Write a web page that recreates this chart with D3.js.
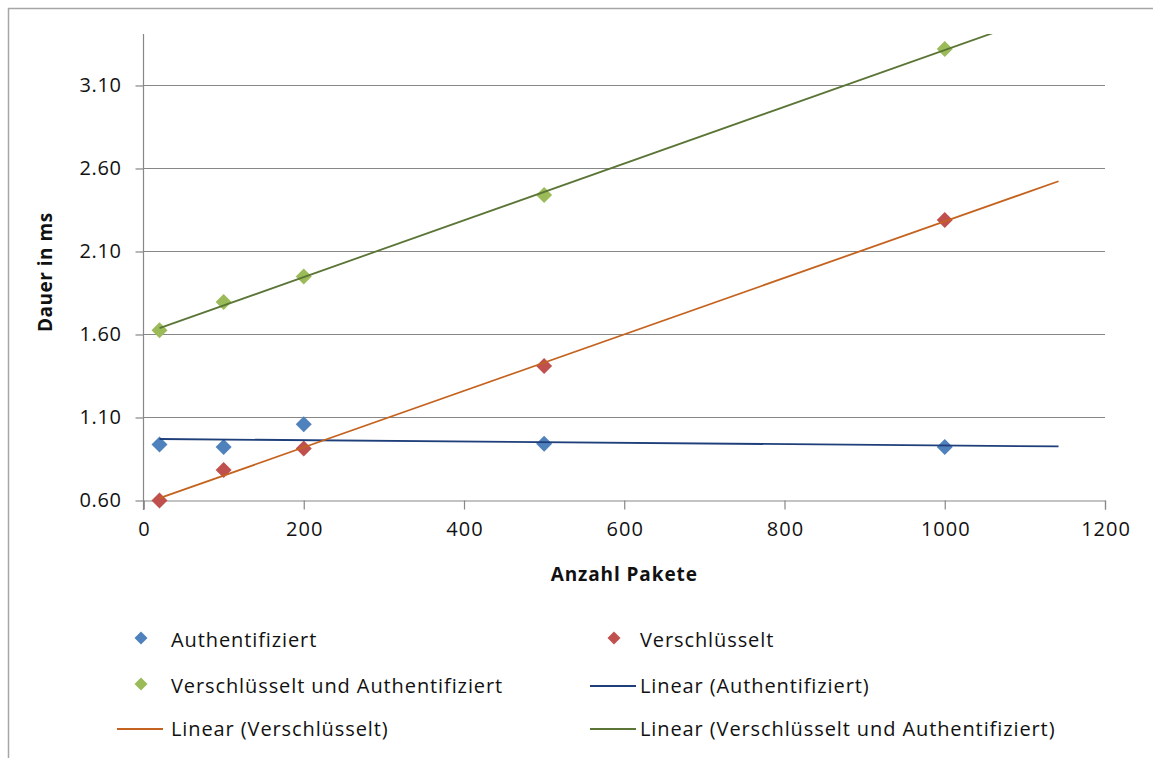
<!DOCTYPE html>
<html>
<head>
<meta charset="utf-8">
<script src="https://cdn.jsdelivr.net/npm/d3@7"></script>
<style>
  html, body { margin: 0; padding: 0; background: #fff; }
  svg { display: block; }
  text { font-family: "Open Sans", Lato, sans-serif; fill: #111; }
</style>
</head>
<body>
<svg id="chart" width="1153" height="758"></svg>
<script>
// ---- data ----
const xValues = [20, 100, 200, 500, 1000];
const authValues = [0.938, 0.922, 1.060, 0.942, 0.922];
const encValues = [0.600, 0.783, 0.913, 1.410, 2.290];
const encAuthValues = [1.626, 1.795, 1.950, 2.440, 3.320];
const xTicks = [0, 200, 400, 600, 800, 1000, 1200];
const yTicks = [0.60, 1.10, 1.60, 2.10, 2.60, 3.10];
const yMax = 3.41;
const trendForwardEnd = 1142;
const seriesNames = ["Authentifiziert", "Verschlüsselt", "Verschlüsselt und Authentifiziert"];
const trendNames = ["Linear (Authentifiziert)", "Linear (Verschlüsselt)", "Linear (Verschlüsselt und Authentifiziert)"];
const xTitle = "Anzahl Pakete";
const yTitle = "Dauer in ms";

// ---- styles ----
const markerColors = ["#4F81BD", "#C0504D", "#9BBB59"];
const trendColors = ["#1F3F7A", "#C4631F", "#5A7535"];
const gridColor = "#878787";

const svg = d3.select("#chart");

// outer border (top and left visible)
svg.append("path")
  .attr("d", "M8.5,758 L8.5,8.5 L1153,8.5")
  .attr("fill", "none").attr("stroke", "#a6a6a6").attr("stroke-width", 1.5);

const x = d3.scaleLinear().domain([0, 1200]).range([143.5, 1105]);
const y = d3.scaleLinear().domain([0.6, yMax]).range([500.5, 34]);

// gridlines
const gridG = svg.append("g");
gridG.selectAll("line").data(yTicks.slice(1)).join("line")
  .attr("x1", x(0)).attr("x2", x(1200))
  .attr("y1", d => Math.round(y(d)) + 0.5).attr("y2", d => Math.round(y(d)) + 0.5)
  .attr("stroke", gridColor).attr("stroke-width", 1.2);

// y axis
const yAxis = d3.axisLeft(y).tickValues(yTicks).tickFormat(d3.format(".2f")).tickSizeOuter(0).tickSize(8).tickPadding(14);
const yG = svg.append("g").attr("transform", `translate(${x(0)},0)`).call(yAxis);
yG.select(".domain").remove();
yG.append("line").attr("x1", 0).attr("x2", 0).attr("y1", y(yMax)).attr("y2", 510)
  .attr("stroke", gridColor).attr("stroke-width", 1.2);
yG.selectAll(".tick line").attr("stroke", gridColor).attr("stroke-width", 1.2);
yG.selectAll(".tick text").style("font-size", "20px").style("letter-spacing", "0.6px").attr("fill", "#111");

// x axis
const xAxis = d3.axisBottom(x).tickValues(xTicks).tickFormat(d3.format("d")).tickSizeOuter(0).tickSize(9).tickPadding(12);
const xG = svg.append("g").attr("transform", `translate(0,${y(0.6)})`).call(xAxis);
xG.select(".domain").attr("stroke", gridColor).attr("stroke-width", 1.2);
xG.selectAll(".tick line").attr("stroke", gridColor).attr("stroke-width", 1.2);
xG.selectAll(".tick text").style("font-size", "20px").style("letter-spacing", "1px").attr("dx", "0.5px").attr("fill", "#111");

// axis titles
svg.append("text").text(xTitle)
  .attr("x", (x(0) + x(1200)) / 2).attr("y", 581)
  .attr("text-anchor", "middle").style("font-size", "19px").style("font-weight", "bold").style("letter-spacing", "0.9px");
svg.append("text").text(yTitle)
  .attr("transform", `translate(52,${(y(0.6) + y(yMax)) / 2 + 5}) rotate(-90)`)
  .attr("text-anchor", "middle").style("font-size", "19px").style("font-weight", "bold").style("letter-spacing", "0.5px");

// clip
svg.append("clipPath").attr("id", "plotClip").append("rect")
  .attr("x", x(0)).attr("y", y(yMax)).attr("width", x(1200) - x(0)).attr("height", y(0.6) - y(yMax));

const allSeries = [authValues, encValues, encAuthValues];
const diamond = d3.symbol().type(d3.symbolSquare).size(128);

// markers
allSeries.forEach((vals, i) => {
  svg.append("g").selectAll("path").data(vals.map((v, j) => [xValues[j], v])).join("path")
    .attr("d", diamond)
    .attr("transform", d => `translate(${x(d[0])},${y(d[1])}) rotate(45)`)
    .attr("fill", markerColors[i]);
});

// trend lines (least squares)
function fit(xs, ys) {
  const mx = d3.mean(xs), my = d3.mean(ys);
  let sxy = 0, sxx = 0;
  xs.forEach((xv, k) => { sxy += (xv - mx) * (ys[k] - my); sxx += (xv - mx) * (xv - mx); });
  const b = sxy / sxx;
  return xv => my + b * (xv - mx);
}
const trendG = svg.append("g").attr("clip-path", "url(#plotClip)");
allSeries.forEach((vals, i) => {
  const f = fit(xValues, vals);
  const x0 = d3.min(xValues);
  trendG.append("line")
    .attr("x1", x(x0)).attr("y1", y(f(x0)))
    .attr("x2", x(trendForwardEnd)).attr("y2", y(f(trendForwardEnd)))
    .attr("stroke", trendColors[i]).attr("stroke-width", 1.8);
});

// legend
const legendItems = [
  { kind: "marker", color: markerColors[0], label: seriesNames[0], col: 0, row: 0 },
  { kind: "marker", color: markerColors[1], label: seriesNames[1], col: 1, row: 0 },
  { kind: "marker", color: markerColors[2], label: seriesNames[2], col: 0, row: 1 },
  { kind: "line", color: trendColors[0], label: trendNames[0], col: 1, row: 1 },
  { kind: "line", color: trendColors[1], label: trendNames[1], col: 0, row: 2 },
  { kind: "line", color: trendColors[2], label: trendNames[2], col: 1, row: 2 }
];
const colX = [117, 590];
const textX = [171, 640];
const rowY = [640, 686, 729];
const legendDiamond = d3.symbol().type(d3.symbolSquare).size(85);
const lg = svg.append("g");
legendItems.forEach(it => {
  const g = lg.append("g");
  const cy = rowY[it.row];
  if (it.kind === "marker") {
    g.append("path").attr("d", legendDiamond)
      .attr("transform", `translate(${colX[it.col] + 24},${cy - 2}) rotate(45)`)
      .attr("fill", it.color);
  } else {
    g.append("line").attr("x1", colX[it.col]).attr("x2", colX[it.col] + 46)
      .attr("y1", cy).attr("y2", cy).attr("stroke", it.color).attr("stroke-width", 1.8);
  }
  g.append("text").text(it.label)
    .attr("x", textX[it.col]).attr("y", cy).attr("dy", "0.35em")
    .style("font-size", "20px").style("letter-spacing", "0.9px");
});
</script>
</body>
</html>
